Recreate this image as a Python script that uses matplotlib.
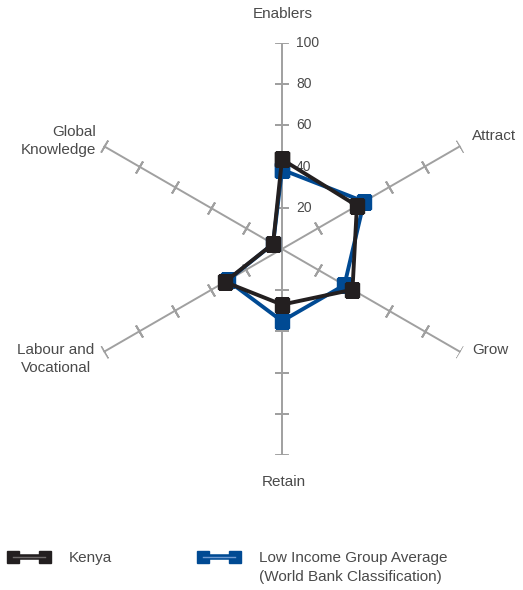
import numpy as np
import matplotlib
matplotlib.use('Agg')
import matplotlib.pyplot as plt
from matplotlib.lines import Line2D
from matplotlib.legend_handler import HandlerTuple

# Categories (clockwise from top)
categories = ['Enablers', 'Attract', 'Grow', 'Retain', 'Labour and\nVocational', 'Global\nKnowledge']
kenya = [43.5, 42, 39.5, 27, 32, 5]
low_income = [38.5, 46, 35, 35, 30.5, 5]
tick_values = [20, 40, 60, 80, 100]
series_names = ['Kenya', 'Low Income Group Average']
series_note = '(World Bank Classification)'

black = '#231f20'
blue = '#004a93'
grey_axis = '#a0a0a0'
text_col = '#4a4a4a'

plt.rcParams['font.family'] = ['Liberation Sans', 'DejaVu Sans']

fig = plt.figure(figsize=(5.23, 5.90), dpi=100)
ax = fig.add_axes([76 / 523, 1 - 455 / 590, 412 / 523, 412 / 590], projection='polar')
ax.set_theta_zero_location('N')
ax.set_theta_direction(-1)
ax.set_ylim(0, 100)
ax.grid(False)
ax.spines['polar'].set_visible(False)
ax.set_xticks([])
ax.set_yticks([])
ax.patch.set_alpha(0)

n = len(categories)
angles = np.arange(n) * 2 * np.pi / n

# axis spokes with perpendicular ticks
for a in angles:
    ax.plot([a, a], [0, 100], color=grey_axis, lw=1.4, zorder=1)
    screen_angle = 90 - np.degrees(a)
    ax.plot([a] * len(tick_values), tick_values, ls='none',
            marker=(2, 2, screen_angle), ms=10, mew=1.4, color=grey_axis, zorder=1)

# tick labels on the Enablers axis
for v in tick_values:
    ax.annotate(str(v), xy=(0, v), xytext=(10, 0), textcoords='offset points',
                ha='left', va='center', fontsize=10, color=text_col)

# data series
ang_closed = np.append(angles, angles[0])
ax.plot(ang_closed, low_income + low_income[:1], color=blue, lw=2.8, marker='s', ms=10,
        zorder=3, solid_joinstyle='miter')
ax.plot(ang_closed, kenya + kenya[:1], color=black, lw=2.8, marker='s', ms=10,
        zorder=4, solid_joinstyle='miter')

# category labels
label_pos = [(283, 14, 'center'), (494, 136, 'center'), (490, 350, 'center'),
             (284, 482, 'center'), (56, 359, 'center'), (96, 141, 'right')]
for lab, (x, y, ha) in zip(categories, label_pos):
    fig.text(x / 523, 1 - y / 590, lab, ha=ha, va='center', fontsize=11,
             color=text_col, linespacing=1.3)

# legend
h_k = (Line2D([], [], color=black, lw=4, marker='s', ms=9),
       Line2D([], [], color='#6e6a6a', lw=1.0))
h_b = (Line2D([], [], color=blue, lw=4, marker='s', ms=9),
       Line2D([], [], color='#6f9bd1', lw=1.0))
fig.legend([h_k, h_b], series_names,
           handler_map={tuple: HandlerTuple(ndivide=1)},
           loc='center left', bbox_to_anchor=(8 / 523, 1 - 558 / 590), ncol=2,
           frameon=False, numpoints=2, handlelength=2.75, handletextpad=1.25,
           columnspacing=5.6, fontsize=11, labelcolor=text_col, borderaxespad=0,
           borderpad=0)
fig.text(259 / 523, 1 - 577 / 590, series_note, ha='left', va='center',
         fontsize=11, color=text_col)

fig.savefig('out.png', dpi=100)
